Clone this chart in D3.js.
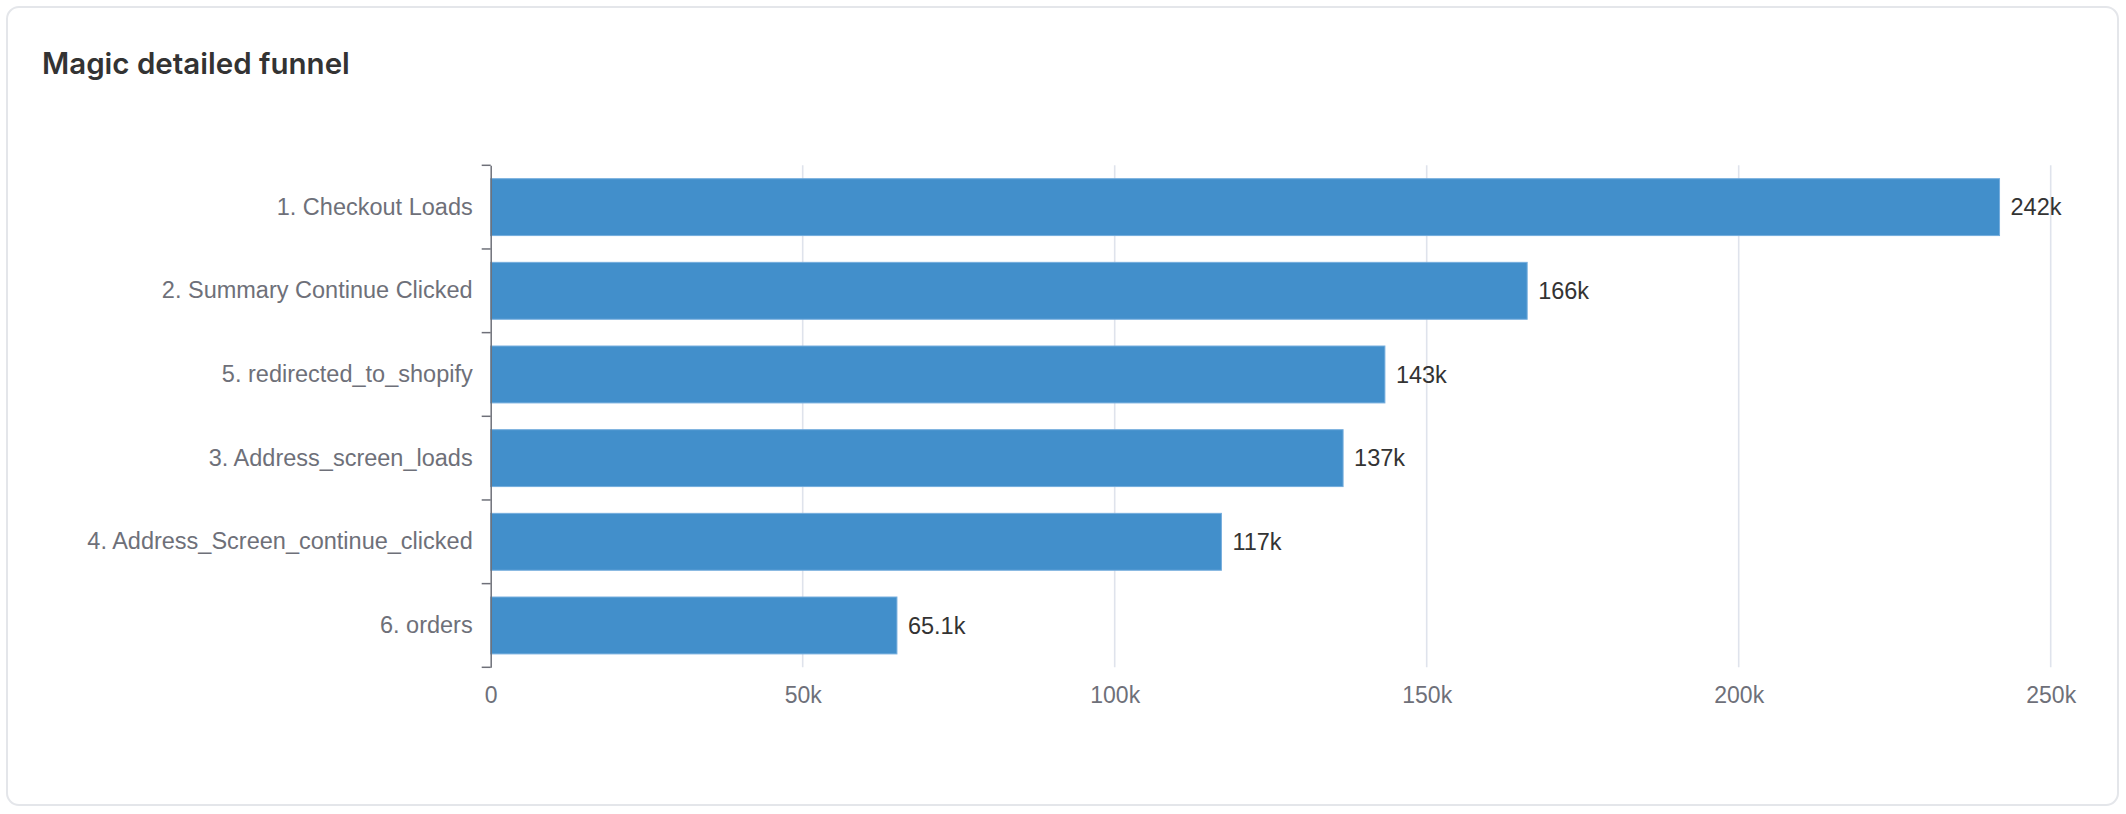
<!DOCTYPE html>
<html>
<head>
<meta charset="utf-8">
<script src="https://cdn.jsdelivr.net/npm/d3@7"></script>
<style>
  html, body { margin: 0; padding: 0; background: #ffffff; }
  svg { display: block; }
</style>
</head>
<body>
<svg id="chart" width="2126" height="814"></svg>
<script>
const title = "Magic detailed funnel";
const categories = [
  "1. Checkout Loads",
  "2. Summary Continue Clicked",
  "5. redirected_to_shopify",
  "3. Address_screen_loads",
  "4. Address_Screen_continue_clicked",
  "6. orders"
];
const values = [241800, 166100, 143300, 136600, 117100, 65100];
const xTicks = [0, 50000, 100000, 150000, 200000, 250000];

(function () {
const svg = d3.select("#chart");

// card
svg.append("rect")
  .attr("x", 7).attr("y", 7)
  .attr("width", 2111).attr("height", 798)
  .attr("rx", 12).attr("ry", 12)
  .attr("fill", "#ffffff")
  .attr("stroke", "#e4e6ea")
  .attr("stroke-width", 2);

svg.append("text")
  .attr("x", 42).attr("y", 74)
  .attr("font-family", "Inter, 'Noto Sans', sans-serif")
  .attr("font-weight", 600)
  .attr("font-size", 29.5)
  .attr("fill", "#333333")
  .text(title);

const pLeft = 490.7, pRight = 2050.7, pTop = 165.3, pBottom = 667.3;

const x = d3.scaleLinear().domain([0, 250000]).range([pLeft, pRight]);
const y = d3.scaleBand().domain(categories).range([pTop, pBottom]).padding(0);
const barPad = 0.16;

const labelFont = "'Liberation Sans', Arial, Helvetica, sans-serif";

// grid lines
svg.append("g").selectAll("line")
  .data(xTicks.filter(d => d > 0))
  .join("line")
  .attr("x1", d => x(d)).attr("x2", d => x(d))
  .attr("y1", pTop).attr("y2", pBottom)
  .attr("stroke", "#DFE3EC")
  .attr("stroke-width", 1.6);

// bars
svg.append("g").selectAll("rect")
  .data(categories)
  .join("rect")
  .attr("x", x(0))
  .attr("y", d => y(d) + y.bandwidth() * barPad)
  .attr("width", (d, i) => x(values[i]) - x(0))
  .attr("height", y.bandwidth() * (1 - 2 * barPad))
  .attr("fill", "#428FCB")
  .attr("stroke", "#74ADDD")
  .attr("stroke-width", 1);

// value labels
svg.append("g").selectAll("text")
  .data(categories)
  .join("text")
  .attr("x", (d, i) => x(values[i]) + 11)
  .attr("y", d => y(d) + y.bandwidth() / 2)
  .attr("dy", "0.35em")
  .attr("font-family", labelFont)
  .attr("font-size", 23.5)
  .attr("fill", "#333333")
  .text((d, i) => d3.format(".3s")(values[i]));

// y axis
const yAxis = svg.append("g")
  .attr("transform", `translate(${pLeft},0)`)
  .call(d3.axisLeft(y).tickSize(0).tickPadding(18));
yAxis.select(".domain").attr("stroke", "#6E7079").attr("stroke-width", 1.5);
yAxis.selectAll("text")
  .attr("font-family", labelFont)
  .attr("font-size", 23.5)
  .attr("fill", "#6E7079");

// boundary ticks
const bounds = categories.map(d => y(d)).concat([y(categories[categories.length - 1]) + y.bandwidth()]);
svg.append("g").selectAll("line")
  .data(bounds)
  .join("line")
  .attr("x1", pLeft - 9).attr("x2", pLeft)
  .attr("y1", d => d).attr("y2", d => d)
  .attr("stroke", "#6E7079")
  .attr("stroke-width", 1.5);

// x axis labels
const xAxis = svg.append("g")
  .attr("transform", `translate(0,${pBottom})`)
  .call(d3.axisBottom(x).tickValues(xTicks).tickSize(0).tickPadding(19.5).tickFormat(d3.format("~s")));
xAxis.select(".domain").remove();
xAxis.selectAll("text")
  .attr("font-family", labelFont)
  .attr("font-size", 23)
  .attr("fill", "#6E7079");
})();
</script>
</body>
</html>
